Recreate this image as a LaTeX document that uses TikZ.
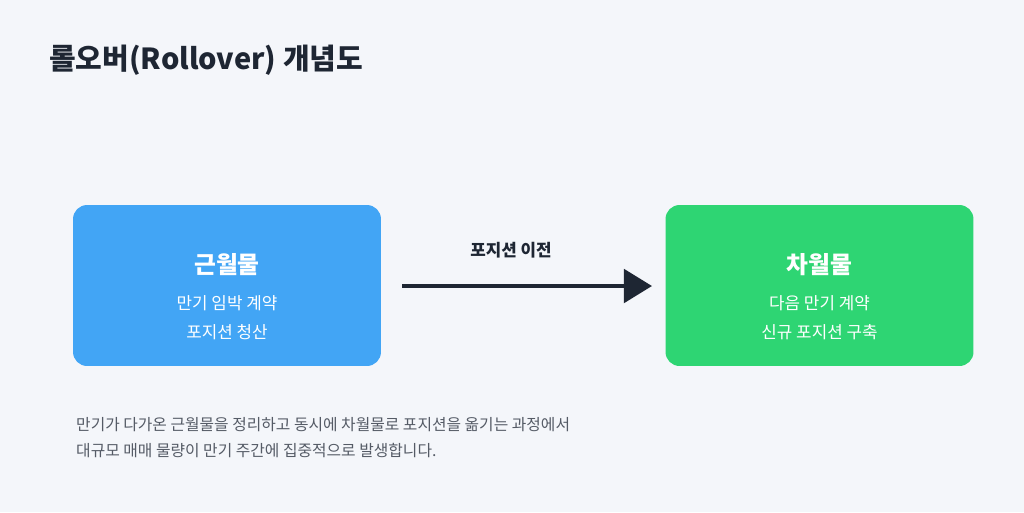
\documentclass[tikz,border=0pt]{standalone}
\usepackage{fontspec}
\setmainfont{Noto Sans CJK KR}
\usetikzlibrary{arrows.meta,positioning}
\definecolor{bgcol}{HTML}{F4F6FA}
\definecolor{nearblue}{HTML}{42A5F5}
\definecolor{nextgreen}{HTML}{2ED573}
\definecolor{inkdark}{HTML}{1E2633}
\definecolor{notegray}{HTML}{555B66}
\begin{document}
\begin{tikzpicture}[x=0.02cm,y=-0.02cm,
	box/.style={rounded corners=8pt, minimum width=6.16cm, minimum height=3.22cm},
	head/.style={font=\fontsize{13.5}{16}\selectfont\bfseries, text=white},
	sub/.style={font=\fontsize{9.6}{16.5}\selectfont, text=white, align=center}]
	%background
	\fill[bgcol] (0,0) rectangle (1024,512);
	\useasboundingbox (0,0) rectangle (1024,512);
	%title
	\node[anchor=west, text=inkdark, font=\fontsize{16.5}{20}\selectfont\bfseries] (title) at (43,60) {롤오버(Rollover) 개념도};
	%boxes
	\node[box, fill=nearblue] (near) at (227,285.5) {};
	\node[box, fill=nextgreen] (next) at (819.5,285.5) {};
	\node[head] (nearhead) at (227,265) {근월물};
	\node[sub] (nearsub) at (227,318) {만기 임박 계약\\포지션 청산};
	\node[head] (nexthead) at (819.5,265) {차월물};
	\node[sub] (nextsub) at (819.5,318) {다음 만기 계약\\신규 포지션 구축};
	%arrow
	\coordinate (from) at (402,286);
	\coordinate (to) at (652,286);
	\draw[inkdark, line width=2.4pt, -{Triangle[length=16pt,width=19pt]}] (from) -- (to);
	\node[text=inkdark, font=\fontsize{9.6}{12}\selectfont\bfseries] (move) at (511,250) {포지션 이전};
	%note
	\node[anchor=north west, text=notegray, align=left, font=\fontsize{9}{14.8}\selectfont] (note) at (70,411)
	{만기가 다가온 근월물을 정리하고 동시에 차월물로 포지션을 옮기는 과정에서\\대규모 매매 물량이 만기 주간에 집중적으로 발생합니다.};
\end{tikzpicture}
\end{document}
